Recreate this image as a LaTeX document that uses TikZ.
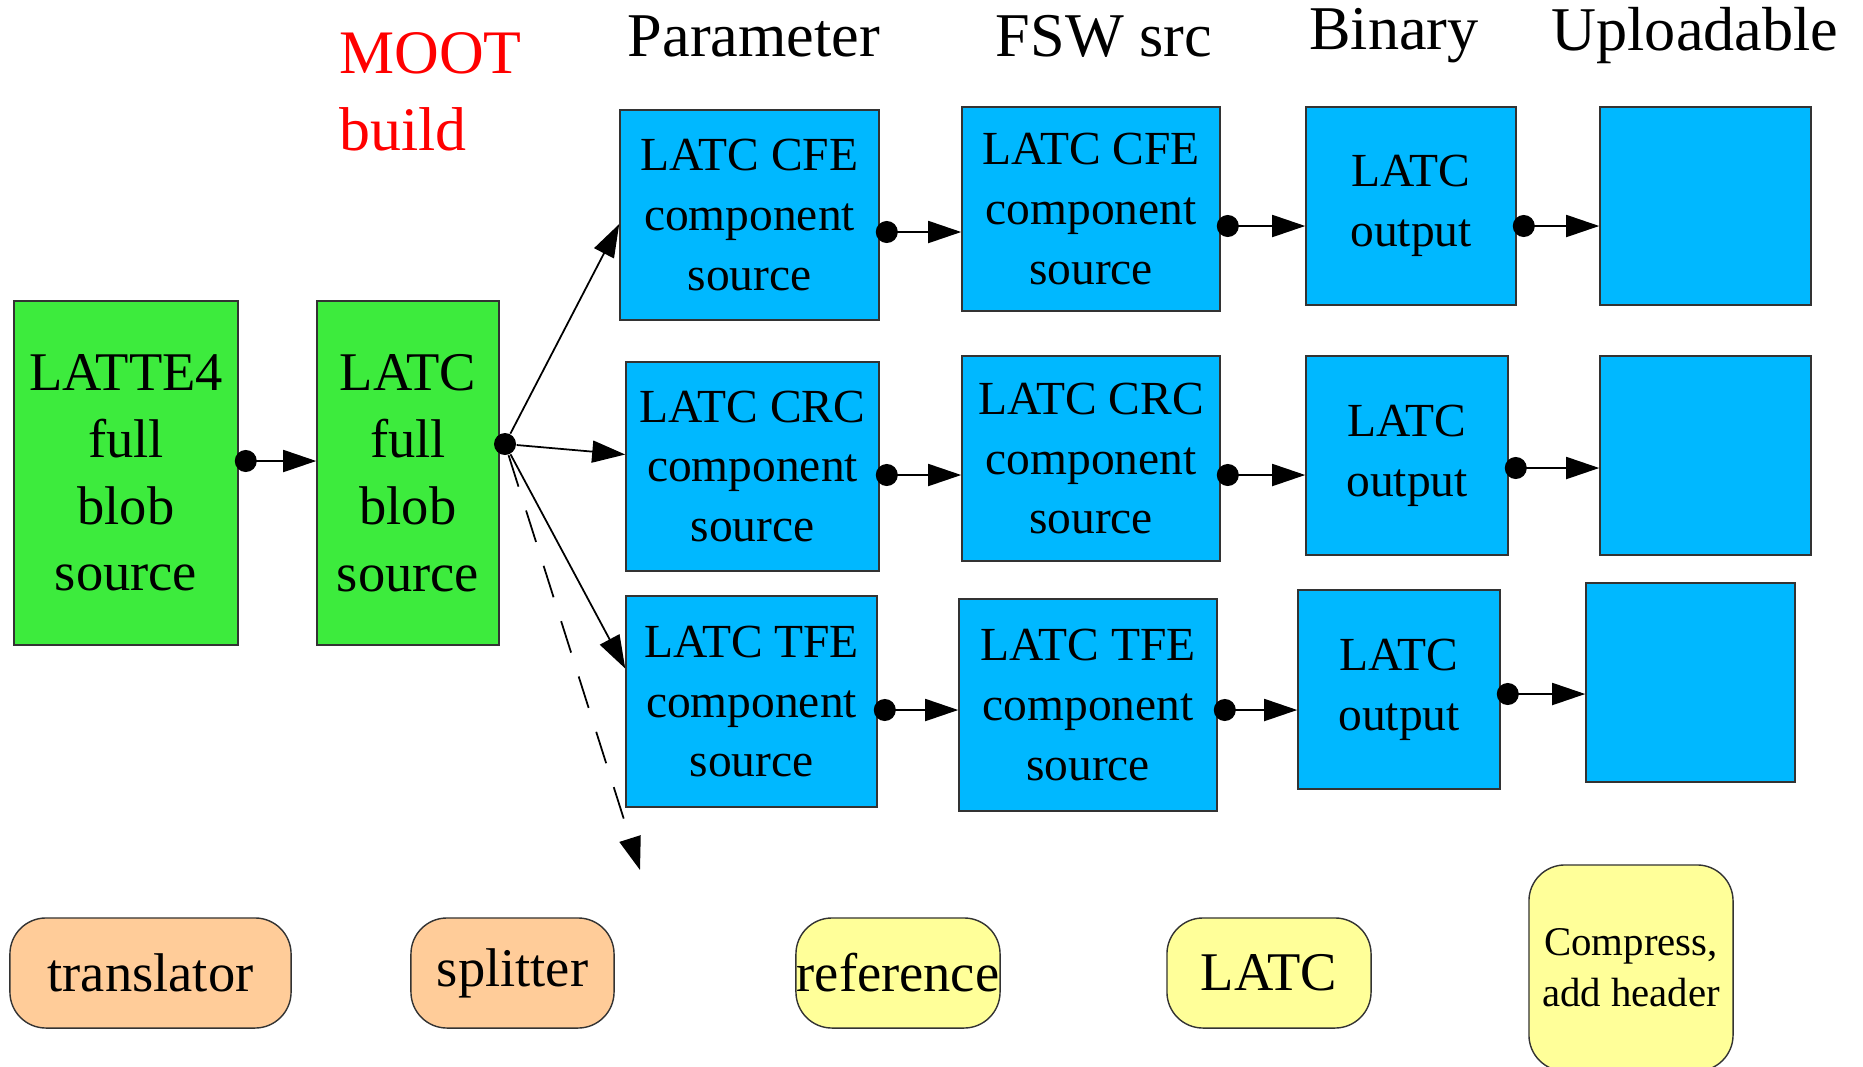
\documentclass[tikz,border=0pt]{standalone}
\usepackage{fontspec}
\setmainfont{Liberation Serif}
\usetikzlibrary{arrows.meta}
\definecolor{mgreen}{RGB}{61,235,61}
\definecolor{mblue}{RGB}{0,184,255}
\definecolor{morange}{RGB}{255,204,153}
\definecolor{myellow}{RGB}{255,255,153}
\tikzset{
% Boxes for the build stages and the tools below them
green box/.style={rectangle,draw=black!80,fill=mgreen,inner sep=0,align=center,font=\fontsize{15.5}{19}\selectfont},
blue box/.style={rectangle,draw=black!80,fill=mblue,inner sep=0,align=center,font=\fontsize{13.5}{17}\selectfont},
tool box/.style={rectangle,rounded corners=0.36cm,draw=black!80,inner sep=0,align=center,minimum height=1.10cm,font=\fontsize{15.5}{19}\selectfont},
head/.style={font=\fontsize{17.7}{21}\selectfont},
dot/.style={circle,fill=black,inner sep=0,minimum size=0.22cm},
flow/.style={line width=0.5pt,{Circle[length=0.22cm]}-{Triangle[length=0.33cm,width=0.22cm]},shorten <=-0.04cm},
fan/.style={line width=0.5pt,-{Triangle[length=0.33cm,width=0.22cm]}}
}

\begin{document}
\begin{tikzpicture}[x=0.01cm,y=-0.01cm]
\useasboundingbox (0,0) rectangle (1863,1066);

% column heads
\node[head,anchor=west,align=left,text=red,font=\fontsize{17.6}{22}\selectfont] (moot) at (327,92) {MOOT\\build};
\node[head] (hpar) at (754,36) {Parameter};
\node[head] (hfsw) at (1104,36) {FSW src};
\node[head] (hbin) at (1394,36) {Binary};
\node[head] (hupl) at (1695,36) {Uploadable};

% full blobs
\node[green box,minimum width=2.24cm,minimum height=3.44cm] (lat) at (126,473) {LATTE4\\full\\blob\\source};
\node[green box,minimum width=1.82cm,minimum height=3.44cm] (lb) at (408,473) {LATC\\full\\blob\\source};

% parameter column
\node[blue box,minimum width=2.59cm,minimum height=2.10cm] (pc) at (749.5,215) {LATC CFE\\component\\source};
\node[blue box,minimum width=2.53cm,minimum height=2.09cm] (pr) at (752.5,466.5) {LATC CRC\\component\\source};
\node[blue box,minimum width=2.51cm,minimum height=2.11cm] (pt) at (751.5,701.5) {LATC TFE\\component\\source};

% FSW src column
\node[blue box,minimum width=2.58cm,minimum height=2.04cm] (fc) at (1091,209) {LATC CFE\\component\\source};
\node[blue box,minimum width=2.58cm,minimum height=2.05cm] (fr) at (1091,458.5) {LATC CRC\\component\\source};
\node[blue box,minimum width=2.58cm,minimum height=2.12cm] (ft) at (1088,705) {LATC TFE\\component\\source};

% binary column
\node[blue box,minimum width=2.10cm,minimum height=1.98cm] (bc) at (1411,206) {LATC\\output};
\node[blue box,minimum width=2.02cm,minimum height=1.99cm] (br) at (1407,455.5) {LATC\\output};
\node[blue box,minimum width=2.02cm,minimum height=1.99cm] (bt) at (1399,689.5) {LATC\\output};

% uploadable column
\node[blue box,minimum width=2.11cm,minimum height=1.98cm] (uc) at (1705.5,206) {};
\node[blue box,minimum width=2.11cm,minimum height=1.99cm] (ur) at (1705.5,455.5) {};
\node[blue box,minimum width=2.09cm,minimum height=1.99cm] (ut) at (1690.5,682.5) {};

% tools
\node[tool box,fill=morange,minimum width=2.81cm] (tr) at (150.5,973) {translator};
\node[tool box,fill=morange,minimum width=2.03cm] (sp) at (512.5,973) {splitter};
\node[tool box,fill=myellow,minimum width=2.04cm] (rf) at (898,973) {reference};
\node[tool box,fill=myellow,minimum width=2.04cm] (lc) at (1269,973) {LATC};
\node[tool box,fill=myellow,minimum width=2.04cm,minimum height=2.06cm,font=\fontsize{11.6}{14.5}\selectfont] (cm) at (1631,968) {Compress,\\add header};

% splitting
\node[dot] (split) at (505,444) {};
\coordinate (dend) at (640,870);
\draw[fan] (split) -- ([yshift=-0.09cm]pc.west);
\draw[fan] (split) -- ([yshift=0.12cm]pr.west);
\draw[fan] (split) -- ([yshift=0.33cm]pt.west);
\draw[fan,dash pattern=on 0.33cm off 0.25cm] (split) -- (dend);

% flows
\draw[flow] (lat.east |- 0,461) -- (lb.west |- 0,461);
\draw[flow] (pc.east |- 0,232) -- (fc.west |- 0,232);
\draw[flow] (fc.east |- 0,226) -- (bc.west |- 0,226);
\draw[flow] (bc.east |- 0,226) -- (uc.west |- 0,226);
\draw[flow] (pr.east |- 0,475) -- (fr.west |- 0,475);
\draw[flow] (fr.east |- 0,475) -- (br.west |- 0,475);
\draw[flow] (br.east |- 0,468) -- (ur.west |- 0,468);
\draw[flow] (pt.east |- 0,710) -- (ft.west |- 0,710);
\draw[flow] (ft.east |- 0,710) -- (bt.west |- 0,710);
\draw[flow] (bt.east |- 0,694) -- (ut.west |- 0,694);
\end{tikzpicture}
\end{document}
